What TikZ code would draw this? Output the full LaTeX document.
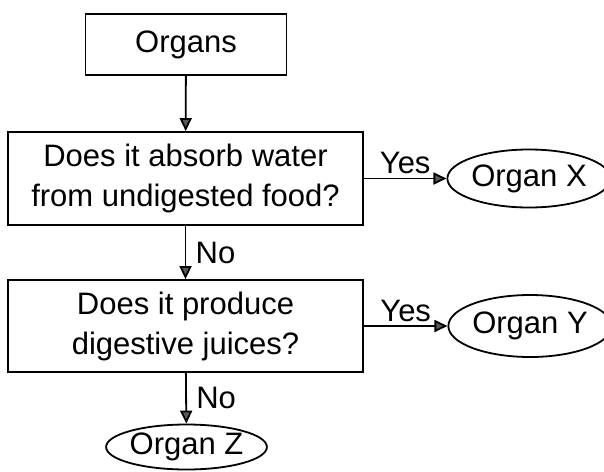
\documentclass[tikz,border=0pt]{standalone}
\usepackage{fontspec}
\setmainfont{Liberation Sans}
\usetikzlibrary{arrows.meta,shapes.geometric}

\begin{document}
\begin{tikzpicture}[x=1pt,y=-1pt,font=\fontsize{31}{40}\selectfont]
    \useasboundingbox (0,0) rectangle (604,471);
    \begin{scope}[every node/.style={draw,line width=1.8pt,inner sep=0pt,align=center}]
      \node[minimum width=201pt,minimum height=61pt] (organs) at (186,44.5) {Organs};
      \node[minimum width=355pt,minimum height=93pt] (absorb) at (185.5,178.5) {Does it absorb water\\from undigested food?};
      \node[minimum width=355pt,minimum height=92pt] (juices) at (185.5,326) {Does it produce\\digestive juices?};
      \node[ellipse,minimum width=142pt,minimum height=58pt] (x) at (529,178.5) {Organ X};
      \node[ellipse,minimum width=145pt,minimum height=62pt] (y) at (530,326) {Organ Y};
      \node[ellipse,minimum width=156pt,minimum height=45pt] (z) at (186.5,447) {Organ Z};
    \end{scope}

    \begin{scope}[>={Triangle[length=13pt,width=12pt,fill=black!65]},
        every edge/.style={draw,line width=1.8pt}]
      \path [->] (organs) edge (absorb);
      \path [->] (absorb) edge node[above] {Yes} (x);
      \path [->] (absorb) edge node[right=6pt] {No} (juices);
      \path [->] (juices) edge node[above] {Yes} (y);
      \path [->] (juices) edge node[right=6pt] {No} (z);
    \end{scope}
  \end{tikzpicture}
\end{document}
